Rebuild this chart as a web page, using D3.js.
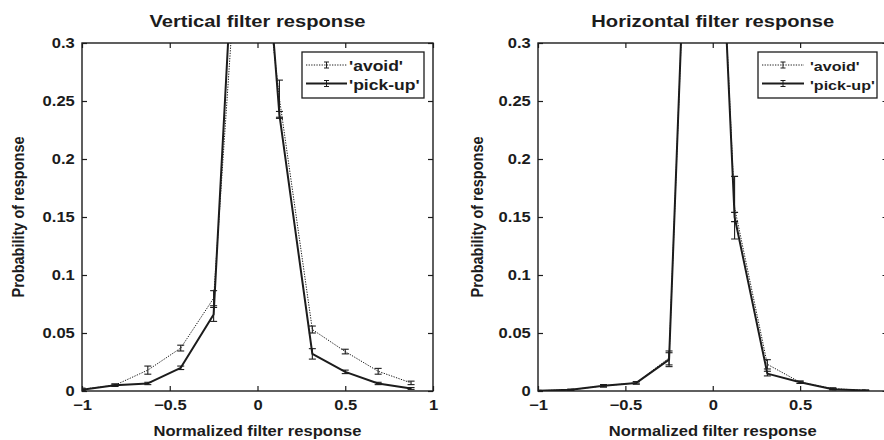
<!DOCTYPE html>
<html>
<head>
<meta charset="utf-8">
<script src="https://cdn.jsdelivr.net/npm/d3@7"></script>
<style>
  html, body { margin: 0; padding: 0; background: #fff; }
  svg { display: block; font-family: "Liberation Sans", Arial, Helvetica, sans-serif; font-weight: bold; }
</style>
</head>
<body>
<script>
// ---------- data ----------
const binCenters = [-1, -0.8125, -0.625, -0.4375, -0.25, -0.0625, 0.125, 0.3125, 0.5, 0.6875, 0.875];

const vertAvoid    = [0.0015, 0.005, 0.018, 0.037, 0.080, 0.50, 0.252, 0.053, 0.034, 0.017, 0.007];
const vertAvoidErr = [0.001, 0.001, 0.0035, 0.0025, 0.0065, 0.02, 0.016, 0.003, 0.002, 0.0025, 0.0015];
const vertPick     = [0.001, 0.005, 0.0065, 0.020, 0.066, 0.60, 0.238, 0.032, 0.0165, 0.0065, 0.0022];
const vertPickErr  = [0.0005, 0.001, 0.001, 0.0015, 0.006, 0.02, 0.003, 0.0045, 0.0015, 0.001, 0.0008];

const horAvoid    = [0.0003, 0.001, 0.0045, 0.007, 0.0285, 0.77, 0.158, 0.023, 0.0075, 0.002, 0.0005];
const horAvoidErr = [0.0002, 0.0005, 0.001, 0.001, 0.006, 0.02, 0.027, 0.004, 0.001, 0.0008, 0.0003];
const horPick     = [0.0003, 0.001, 0.0045, 0.007, 0.027, 0.78, 0.150, 0.015, 0.0075, 0.0015, 0.0005];
const horPickErr  = [0.0002, 0.0005, 0.001, 0.001, 0.006, 0.02, 0.004, 0.002, 0.001, 0.0005, 0.0003];

const xTicks = [-1, -0.5, 0, 0.5, 1];
const xTickLabelsVert = [-1, -0.5, 0, 0.5, 1];
const xTickLabelsHor = [-1, -0.5, 0, 0.5];   // the "1" label lies outside the cropped picture
const yTicks = [0, 0.05, 0.1, 0.15, 0.2, 0.25, 0.3];
const seriesNames = ["'avoid'", "'pick-up'"];
const titles = ["Vertical filter response", "Horizontal filter response"];
const xLabel = "Normalized filter response";
const yLabel = "Probability of response";

// ---------- drawing ----------
const INK = "#1c1c1c";
const SX = 1.2; // horizontal stretch of the original raster
const W = 884, H = 440;
const svg = d3.select("body").append("svg").attr("width", W).attr("height", H);

const fmtX = d => d === 0 ? "0" : (d < 0 ? "\u2212" + Math.abs(d) : String(d));
const fmtY = d => d === 0 ? "0" : String(+d.toFixed(2));

function stext(g, x, y, str, size, anchor, rot) {
  return g.append("text")
    .attr("transform", `translate(${x},${y}) scale(${SX},1)` + (rot ? " rotate(-90)" : ""))
    .attr("text-anchor", anchor)
    .attr("font-size", size)
    .attr("fill", INK)
    .text(str);
}

function panel(p) {
  const x = d3.scaleLinear().domain([-1, 1]).range(p.xr);
  const y = d3.scaleLinear().domain([0, 0.3]).range([391, 43]);
  const g = svg.append("g");
  const clipId = "clip" + p.id;
  svg.append("clipPath").attr("id", clipId).append("rect")
    .attr("x", x(-1)).attr("y", y(0.3)).attr("width", x(1) - x(-1)).attr("height", y(0) - y(0.3));

  // axes (inward ticks on all sides)
  const bottom = g.append("g").attr("transform", `translate(0,${y(0)})`)
    .call(d3.axisBottom(x).tickValues(xTicks).tickSizeInner(-5).tickSizeOuter(0).tickFormat(""));
  const bottomLab = g.append("g").attr("transform", `translate(0,${y(0)})`)
    .call(d3.axisBottom(x).tickValues(p.xLabs).tickSize(0).tickPadding(9).tickFormat(fmtX));
  const top = g.append("g").attr("transform", `translate(0,${y(0.3)})`)
    .call(d3.axisTop(x).tickValues(xTicks).tickSizeInner(-5).tickSizeOuter(0).tickFormat(""));
  const left = g.append("g").attr("transform", `translate(${x(-1)},0)`)
    .call(d3.axisLeft(y).tickValues(yTicks).tickSizeInner(-5).tickSizeOuter(0).tickPadding(6).tickFormat(fmtY));
  const right = g.append("g").attr("transform", `translate(${x(1)},0)`)
    .call(d3.axisRight(y).tickValues(yTicks).tickSizeInner(-5).tickSizeOuter(0).tickFormat(""));
  [bottom, bottomLab, top, left, right].forEach(a => {
    a.select(".domain").remove();
    a.selectAll("line").attr("stroke", INK).attr("stroke-width", 1.2);
    a.selectAll("text").attr("font-size", 13.8).attr("font-family", "Liberation Sans, Arial, sans-serif")
      .attr("font-weight", "bold").attr("fill", INK).attr("transform", `scale(${SX},1)`);
  });
  bottomLab.selectAll("line").remove();
  left.selectAll("text").attr("dy", "0.36em");

  // series
  const series = [
    { vals: p.avoid, errs: p.avoidErr, dash: "1.3,1.3", w: 1 },
    { vals: p.pick, errs: p.pickErr, dash: null, w: 2 }
  ];
  const plot = g.append("g").attr("clip-path", `url(#${clipId})`);
  series.forEach(s => {
    const pts = binCenters.map((c, i) => [c, s.vals[i], s.errs[i]]);
    plot.append("path")
      .attr("d", d3.line().x(d => x(d[0])).y(d => y(d[1]))(pts))
      .attr("fill", "none").attr("stroke", INK).attr("stroke-width", s.w)
      .attr("stroke-dasharray", s.dash).attr("stroke-linejoin", "round");
    const eb = plot.append("g").selectAll("g").data(pts).join("g");
    eb.append("line").attr("x1", d => x(d[0])).attr("x2", d => x(d[0]))
      .attr("y1", d => y(d[1] - d[2])).attr("y2", d => y(d[1] + d[2]))
      .attr("stroke", INK).attr("stroke-width", 1.1);
    [-1, 1].forEach(sg => {
      eb.append("line").attr("x1", d => x(d[0]) - 3.5).attr("x2", d => x(d[0]) + 3.5)
        .attr("y1", d => y(d[1] + sg * d[2])).attr("y2", d => y(d[1] + sg * d[2]))
        .attr("stroke", INK).attr("stroke-width", 1.1);
    });
  });

  // frame
  g.append("rect").attr("x", x(-1)).attr("y", y(0.3)).attr("width", x(1) - x(-1)).attr("height", y(0) - y(0.3))
    .attr("fill", "none").attr("stroke", INK).attr("stroke-width", 1.4);

  // titles
  stext(g, (x(-1) + x(1)) / 2, 27, p.title, 16.8, "middle");
  stext(g, x(0), 436, xLabel, 13.8, "middle");
  stext(g, p.yLabX, (y(0) + y(0.3)) / 2, yLabel, 14.5, "middle", true);

  // legend
  const L = p.leg;
  const lg = g.append("g");
  lg.append("rect").attr("x", L.x).attr("y", 52).attr("width", L.w).attr("height", 46)
    .attr("fill", "#fff").attr("stroke", INK).attr("stroke-width", 1.3);
  series.forEach((s, i) => {
    const yy = 65 + i * 18.5;
    lg.append("line").attr("x1", L.l0).attr("x2", L.l1).attr("y1", yy).attr("y2", yy)
      .attr("stroke", INK).attr("stroke-width", s.w).attr("stroke-dasharray", s.dash);
    const mx = (L.l0 + L.l1) / 2;
    lg.append("line").attr("x1", mx).attr("x2", mx).attr("y1", yy - 3).attr("y2", yy + 3).attr("stroke", INK).attr("stroke-width", 1);
    [-3, 3].forEach(dy => lg.append("line").attr("x1", mx - 2.5).attr("x2", mx + 2.5).attr("y1", yy + dy).attr("y2", yy + dy)
      .attr("stroke", INK).attr("stroke-width", 1));
    stext(lg, L.t, yy + 6, seriesNames[i], L.fs, "start");
  });
}

panel({ id: 0, xr: [82, 433], title: titles[0], yLabX: 24, xLabs: xTickLabelsVert,
  avoid: vertAvoid, avoidErr: vertAvoidErr, pick: vertPick, pickErr: vertPickErr,
  leg: { x: 302, w: 122, l0: 306, l1: 347, t: 349, fs: 14.6 } });
panel({ id: 1, xr: [538, 887.5], title: titles[1], yLabX: 483, xLabs: xTickLabelsHor,
  avoid: horAvoid, avoidErr: horAvoidErr, pick: horPick, pickErr: horPickErr,
  leg: { x: 758, w: 119, l0: 762, l1: 804, t: 810, fs: 13.4 } });
</script>
</body>
</html>
